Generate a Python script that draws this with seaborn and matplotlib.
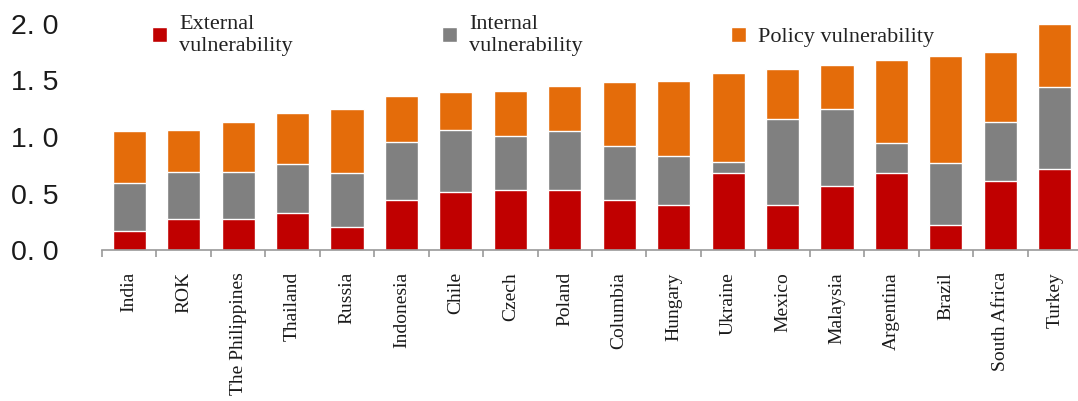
import numpy as np
import pandas as pd
import matplotlib
matplotlib.use('Agg')
import matplotlib.pyplot as plt
import seaborn as sns

# Data
countries = ['India', 'ROK', 'The Philippines', 'Thailand', 'Russia', 'Indonesia',
             'Chile', 'Czech', 'Poland', 'Columbia', 'Hungary', 'Ukraine', 'Mexico',
             'Malaysia', 'Argentina', 'Brazil', 'South Africa', 'Turkey']
external = [0.17, 0.27, 0.27, 0.33, 0.20, 0.44, 0.51, 0.53, 0.53, 0.44, 0.40, 0.68,
            0.40, 0.57, 0.68, 0.22, 0.61, 0.72]
internal = [0.42, 0.42, 0.42, 0.43, 0.48, 0.52, 0.55, 0.48, 0.52, 0.48, 0.43, 0.10,
            0.76, 0.68, 0.27, 0.55, 0.52, 0.72]
policy = [0.46, 0.37, 0.44, 0.45, 0.57, 0.40, 0.34, 0.40, 0.40, 0.57, 0.67, 0.79,
          0.44, 0.39, 0.73, 0.95, 0.62, 0.56]
y_ticks = [0.0, 0.5, 1.0, 1.5, 2.0]
y_tick_labels = ['0. 0', '0. 5', '1. 0', '1. 5', '2. 0']

RED, GREY, ORANGE = '#C00000', '#808080', '#E46C0A'

df = pd.DataFrame({'country': countries, 'external': external,
                   'internal': internal, 'policy': policy})
df['ext_int'] = df['external'] + df['internal']
df['total'] = df['ext_int'] + df['policy']

sns.set_style('white')
plt.rcParams['font.family'] = ['Liberation Serif', 'DejaVu Sans']

fig = plt.figure(figsize=(10.78, 4.01), dpi=100)
ax = fig.add_axes([102 / 1078, 151 / 401, 980 / 1078, 226 / 401])

# stacked bars drawn as overlapping cumulative layers
sns.barplot(data=df, x='country', y='total', color=ORANGE, width=0.61,
            saturation=1, label='Policy vulnerability', ax=ax)
sns.barplot(data=df, x='country', y='ext_int', color=GREY, width=0.61,
            saturation=1, label='Internal\nvulnerability', ax=ax)
sns.barplot(data=df, x='country', y='external', color=RED, width=0.61,
            saturation=1, label='External\nvulnerability', ax=ax)

ax.set_ylim(0, 2.0)
ax.set_xlim(-0.5, len(countries) - 0.5)
ax.set_xlabel('')
ax.set_ylabel('')

ax.set_yticks(y_ticks)
ax.set_yticklabels(y_tick_labels, family='Liberation Sans', fontsize=20.5, color='#1a1a1a')
ax.tick_params(axis='y', length=0, pad=31)

ax.set_xticks(range(len(countries)))
ax.set_xticklabels(countries, rotation=90, fontsize=14, color='#1a1a1a')
ax.tick_params(axis='x', which='major', length=0, pad=16)
ax.set_xticks(np.arange(len(countries) + 1) - 0.5, minor=True)
ax.tick_params(axis='x', which='minor', length=5, width=1.2, color='#999999',
               direction='out', bottom=True)

for side in ['left', 'top', 'right']:
    ax.spines[side].set_visible(False)
ax.spines['bottom'].set_color('#999999')
ax.spines['bottom'].set_linewidth(1.2)

handles, labels = ax.get_legend_handles_labels()
if ax.get_legend() is not None:
    ax.get_legend().remove()
leg = fig.legend(handles[::-1], labels[::-1], ncol=3, loc='upper left',
                 bbox_to_anchor=(152 / 1078, 1 - 15 / 401), frameon=False,
                 fontsize=16, handlelength=0.67, handleheight=0.67,
                 handletextpad=0.55, columnspacing=6.7, borderpad=0, borderaxespad=0,
                 labelcolor='#222222')
for t in leg.get_texts():
    t.set_linespacing(1.2)

fig.savefig('out.png', dpi=100)
